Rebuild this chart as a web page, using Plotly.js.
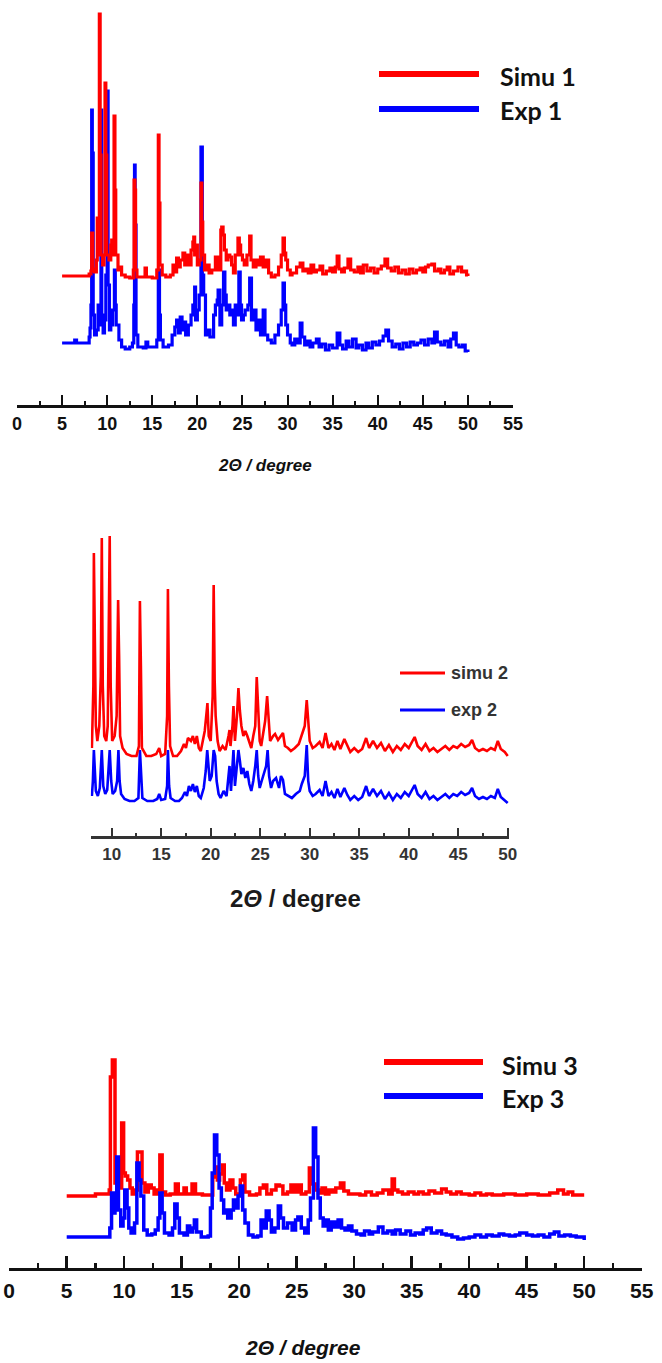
<!DOCTYPE html>
<html>
<head>
<meta charset="utf-8">
<script src="https://cdn.plot.ly/plotly-3.0.1.min.js"></script>
<style>html,body{margin:0;padding:0;background:#fff;}#chart{width:662px;height:1363px;}</style>
</head>
<body>
<div id="chart"></div>
<script>
// ---------- Panel 1 : Simu 1 / Exp 1  ([2theta, intensity a.u.]) ----------
const simu1 = [[5,129],[7.8,129],[8.0,131],[8.2,134],[8.28,172],[8.4,136],[8.6,133],[8.8,145],[8.9,187],[9.0,150],[9.13,391],[9.22,250],[9.32,150],[9.5,140],[9.65,150],[9.76,322],[9.85,250],[9.95,150],[10.2,145],[10.4,160],[10.5,165],[10.6,150],[10.76,289],[10.86,215],[10.95,150],[11.2,135],[11.5,138],[11.6,130],[12.0,128],[12.5,127],[12.9,135],[12.98,225],[13.08,215],[13.15,135],[13.3,128],[14.0,128],[14.2,137],[14.35,128],[15.0,127],[15.5,135],[15.67,270],[15.75,202],[15.85,140],[16.1,130],[16.5,128],[17.0,130],[17.3,140],[17.5,133],[17.7,147],[17.9,138],[18.1,145],[18.4,152],[18.6,140],[18.8,150],[19.0,140],[19.3,155],[19.5,163],[19.6,168],[19.7,150],[19.85,160],[20.0,140],[20.2,145],[20.4,222],[20.5,183],[20.6,150],[20.8,135],[21.0,140],[21.3,132],[21.6,135],[22.0,148],[22.3,135],[22.6,175],[22.7,178],[22.85,170],[23.0,155],[23.2,145],[23.4,150],[23.6,148],[23.8,140],[24.0,132],[24.2,150],[24.5,167],[24.65,160],[24.8,150],[25.0,145],[25.2,140],[25.5,150],[25.8,169],[25.95,145],[26.2,138],[26.5,145],[26.8,140],[27.0,148],[27.3,138],[27.6,145],[27.9,132],[28.2,128],[28.6,130],[29.0,138],[29.3,150],[29.5,167],[29.65,152],[29.8,145],[30.0,135],[30.3,130],[30.5,132],[31.0,138],[31.4,142],[31.7,134],[32.0,136],[32.3,132],[32.6,140],[32.9,133],[33.2,135],[33.6,139],[33.9,131],[34.3,134],[34.7,137],[35.0,133],[35.3,138],[35.5,149],[35.7,136],[36.0,133],[36.3,137],[36.7,146],[37.0,135],[37.4,133],[37.8,138],[38.1,132],[38.4,140],[38.8,134],[39.2,137],[39.6,132],[40.0,136],[40.4,139],[40.8,146],[41.1,137],[41.5,134],[41.9,138],[42.3,132],[42.7,135],[43.1,131],[43.5,136],[43.9,132],[44.3,135],[44.7,137],[45.0,133],[45.3,138],[45.6,140],[46.0,141],[46.3,134],[46.7,136],[47.0,132],[47.4,135],[47.7,138],[48.0,131],[48.4,134],[48.9,138],[49.3,133],[49.6,134],[49.85,130],[50,129]];
const exp1 = [[5,62],[6.2,62],[6.4,65],[6.6,62],[7.9,62],[8.0,68],[8.1,77],[8.2,100],[8.28,295],[8.35,252],[8.45,90],[8.6,70],[8.8,75],[9.0,100],[9.1,85],[9.2,80],[9.31,295],[9.4,90],[9.55,72],[9.7,85],[9.85,130],[10.0,314],[10.1,120],[10.25,75],[10.4,80],[10.6,95],[10.8,135],[10.9,100],[11.0,80],[11.3,65],[11.6,58],[12.0,56],[12.5,58],[12.8,62],[12.95,100],[13.03,240],[13.1,180],[13.2,70],[13.4,58],[14.0,57],[14.3,63],[14.5,58],[15.0,58],[15.5,65],[15.67,135],[15.8,90],[15.9,65],[16.2,58],[16.8,60],[17.2,70],[17.5,78],[17.7,85],[17.9,72],[18.1,88],[18.3,75],[18.5,83],[18.7,70],[19.0,80],[19.3,90],[19.5,100],[19.7,118],[19.8,85],[20.0,95],[20.2,110],[20.4,258],[20.55,130],[20.7,110],[20.9,70],[21.1,75],[21.4,68],[21.8,90],[22.0,100],[22.2,105],[22.3,115],[22.5,80],[22.7,100],[22.9,133],[23.05,110],[23.2,95],[23.4,100],[23.6,90],[23.8,95],[24.0,80],[24.2,100],[24.4,90],[24.6,133],[24.75,100],[24.9,85],[25.1,90],[25.3,95],[25.6,100],[25.8,127],[26.0,85],[26.2,95],[26.5,75],[26.8,85],[27.0,70],[27.3,95],[27.5,70],[27.8,65],[28.2,62],[28.6,70],[29.0,80],[29.3,95],[29.5,122],[29.65,100],[29.8,80],[30.0,70],[30.3,62],[30.5,60],[30.8,66],[31.1,62],[31.4,82],[31.6,68],[31.9,60],[32.2,64],[32.5,58],[32.8,62],[33.2,66],[33.5,58],[33.8,61],[34.2,55],[34.6,60],[35.0,57],[35.5,72],[35.8,60],[36.1,56],[36.5,64],[36.8,58],[37.2,66],[37.6,57],[37.9,60],[38.3,55],[38.7,62],[39.0,57],[39.4,63],[39.8,60],[40.2,64],[40.6,69],[40.9,75],[41.2,64],[41.6,58],[42.0,61],[42.4,56],[42.8,62],[43.2,58],[43.6,63],[44.0,60],[44.4,62],[44.8,65],[45.2,60],[45.6,66],[46.0,62],[46.3,73],[46.6,63],[47.0,60],[47.4,64],[47.8,58],[48.1,66],[48.4,72],[48.7,60],[49.0,58],[49.4,60],[49.7,54],[50.0,53]];

// ---------- Panel 2 : simu 2 / exp 2 ----------
const simu2 = [[8.0,88],[8.15,150],[8.2,283],[8.28,200],[8.4,110],[8.55,95],[8.75,110],[8.9,160],[9.0,298],[9.1,150],[9.25,100],[9.45,95],[9.6,110],[9.8,300],[9.9,150],[10.05,95],[10.3,100],[10.5,120],[10.65,236],[10.75,180],[10.85,100],[11.1,88],[11.5,82],[12.0,80],[12.5,80],[12.75,90],[12.85,235],[12.95,170],[13.05,88],[13.5,80],[14.0,80],[14.5,82],[14.8,88],[15.0,80],[15.4,82],[15.6,120],[15.68,247],[15.78,150],[15.9,90],[16.2,80],[16.6,80],[17.0,85],[17.3,92],[17.5,88],[17.7,98],[18.0,95],[18.2,100],[18.4,92],[18.6,100],[18.8,88],[19.0,85],[19.2,95],[19.4,105],[19.6,125],[19.67,133],[19.8,100],[20.0,95],[20.2,140],[20.3,251],[20.4,156],[20.5,120],[20.7,95],[20.9,85],[21.2,90],[21.5,86],[21.8,100],[21.9,106],[22.0,90],[22.2,110],[22.3,130],[22.45,95],[22.65,120],[22.8,148],[22.95,125],[23.1,110],[23.3,100],[23.5,105],[23.7,100],[23.9,95],[24.1,88],[24.3,100],[24.5,110],[24.65,159],[24.8,120],[24.95,95],[25.1,90],[25.3,105],[25.5,115],[25.7,140],[25.85,110],[26.0,95],[26.3,100],[26.5,102],[26.8,96],[27.1,100],[27.3,103],[27.5,90],[27.8,88],[28.1,85],[28.5,88],[28.9,92],[29.2,100],[29.5,110],[29.7,136],[29.85,110],[30.0,95],[30.3,88],[30.6,90],[31.0,94],[31.3,88],[31.6,103],[31.9,88],[32.2,92],[32.5,86],[32.8,95],[33.1,87],[33.5,97],[33.8,90],[34.1,84],[34.5,88],[34.9,84],[35.3,87],[35.7,98],[36.0,88],[36.4,95],[36.8,88],[37.2,93],[37.6,85],[38.0,91],[38.4,84],[38.8,90],[39.2,86],[39.6,92],[40.0,88],[40.3,94],[40.6,99],[40.9,90],[41.3,86],[41.7,92],[42.1,85],[42.5,88],[42.9,84],[43.3,87],[43.7,90],[44.1,86],[44.5,90],[44.9,88],[45.3,92],[45.7,89],[46.1,91],[46.4,96],[46.7,88],[47.1,85],[47.5,87],[47.9,85],[48.3,88],[48.7,86],[49.0,95],[49.3,87],[49.7,84],[50.0,80]];
const exp2 = [[8.0,40],[8.1,55],[8.2,86],[8.3,60],[8.4,45],[8.6,40],[8.8,48],[9.0,86],[9.15,50],[9.35,42],[9.55,46],[9.8,86],[9.95,55],[10.1,42],[10.35,45],[10.55,55],[10.68,86],[10.8,55],[10.95,42],[11.3,37],[11.8,35],[12.3,35],[12.7,38],[12.85,86],[12.95,60],[13.1,38],[13.6,35],[14.2,35],[14.6,37],[14.8,42],[15.0,36],[15.4,37],[15.6,50],[15.68,86],[15.8,50],[15.95,38],[16.4,35],[16.8,35],[17.1,38],[17.4,44],[17.6,40],[17.8,50],[18.0,45],[18.2,52],[18.4,44],[18.6,50],[18.8,40],[19.0,38],[19.3,48],[19.5,65],[19.65,86],[19.75,70],[19.9,55],[20.1,60],[20.3,86],[20.45,80],[20.6,55],[20.8,42],[21.0,38],[21.3,45],[21.6,40],[21.8,60],[21.9,70],[22.05,45],[22.2,70],[22.3,86],[22.45,50],[22.65,70],[22.8,86],[22.95,75],[23.1,62],[23.3,68],[23.5,58],[23.7,65],[23.9,52],[24.1,45],[24.3,55],[24.5,70],[24.65,86],[24.8,60],[24.95,48],[25.15,55],[25.4,65],[25.6,70],[25.75,86],[25.9,60],[26.1,48],[26.3,55],[26.6,58],[26.9,48],[27.1,60],[27.3,56],[27.5,42],[27.8,40],[28.2,38],[28.6,42],[29.0,45],[29.2,52],[29.5,60],[29.7,91],[29.85,55],[30.0,45],[30.3,40],[30.6,42],[31.0,46],[31.3,40],[31.6,55],[31.9,40],[32.2,44],[32.5,38],[32.8,47],[33.1,39],[33.5,48],[33.8,41],[34.1,36],[34.5,40],[34.9,36],[35.3,39],[35.7,50],[36.0,40],[36.4,47],[36.8,40],[37.2,45],[37.6,37],[38.0,43],[38.4,36],[38.8,42],[39.2,38],[39.6,44],[40.0,40],[40.3,46],[40.6,51],[40.9,42],[41.3,38],[41.7,44],[42.1,37],[42.5,40],[42.9,36],[43.3,39],[43.7,42],[44.1,38],[44.5,42],[44.9,40],[45.3,44],[45.7,41],[46.1,43],[46.4,48],[46.7,40],[47.1,37],[47.5,39],[47.9,37],[48.3,40],[48.7,38],[49.0,47],[49.3,39],[49.7,36],[50.0,33]];

// ---------- Panel 3 : Simu 3 / Exp 3 ----------
const simu3 = [[5.0,72],[7.5,74],[8.6,74],[8.7,78],[8.8,191],[8.97,208],[9.2,85],[9.4,88],[9.6,80],[9.78,145],[9.95,95],[10.1,92],[10.3,88],[10.5,80],[10.7,74],[11.0,78],[11.15,116],[11.55,85],[11.8,76],[12.1,83],[12.35,80],[12.6,74],[12.9,78],[13.1,113],[13.3,76],[13.6,73],[14.0,74],[14.45,84],[14.7,74],[15.2,80],[15.4,74],[15.9,84],[16.2,74],[16.8,73],[17.3,73],[17.7,91],[17.9,101],[18.1,88],[18.3,94],[18.55,103],[18.7,85],[18.9,78],[19.2,88],[19.45,80],[19.7,74],[20.1,88],[20.3,93],[20.5,76],[20.9,73],[21.5,74],[21.8,80],[22.1,83],[22.4,74],[22.8,78],[23.2,83],[23.5,82],[23.8,74],[24.2,76],[24.5,83],[24.8,76],[25.1,83],[25.4,74],[25.8,76],[26.1,100],[26.3,84],[26.6,78],[26.9,75],[27.2,80],[27.5,74],[27.8,78],[28.1,76],[28.4,80],[28.8,85],[29.1,77],[29.5,74],[30.0,74],[30.5,73],[31.0,76],[31.5,73],[32.0,75],[32.5,78],[33.0,74],[33.3,89],[33.5,78],[33.8,76],[34.2,74],[34.7,76],[35.2,74],[35.6,76],[36.0,74],[36.5,77],[37.0,75],[37.6,79],[38.0,76],[38.4,74],[38.9,76],[39.3,74],[40.0,73],[40.5,75],[41.0,73],[41.5,74],[42.0,73],[43.0,74],[44.0,73],[45.0,74],[46.0,73],[47.0,75],[47.7,78],[48.2,74],[48.6,76],[49.0,73],[50.0,73]];
const exp3 = [[5.0,31],[8.6,31],[8.75,40],[8.9,75],[9.05,55],[9.2,70],[9.35,111],[9.5,58],[9.7,42],[9.9,50],[10.05,78],[10.25,60],[10.4,40],[10.6,35],[10.9,45],[11.1,105],[11.3,88],[11.45,72],[11.7,38],[12.0,33],[12.4,34],[12.7,38],[12.95,50],[13.1,75],[13.3,55],[13.5,35],[13.9,33],[14.2,40],[14.4,64],[14.6,50],[14.8,35],[15.2,33],[15.5,42],[15.7,36],[15.95,40],[16.1,48],[16.3,36],[16.7,31],[17.3,32],[17.5,60],[17.65,95],[17.85,133],[18.05,113],[18.25,80],[18.45,68],[18.65,55],[18.85,58],[19.0,50],[19.3,58],[19.5,68],[19.7,60],[19.9,72],[20.1,82],[20.3,58],[20.5,45],[20.8,33],[21.2,31],[21.6,32],[21.9,48],[22.1,40],[22.35,57],[22.6,48],[22.8,36],[23.1,40],[23.4,62],[23.6,50],[23.85,40],[24.2,45],[24.6,38],[24.9,48],[25.1,51],[25.4,40],[25.7,35],[26.0,48],[26.2,70],[26.45,140],[26.65,111],[26.85,70],[27.05,50],[27.3,42],[27.5,48],[27.75,38],[28.0,46],[28.3,41],[28.6,48],[28.9,40],[29.2,38],[29.5,42],[29.8,37],[30.2,34],[30.6,33],[30.9,37],[31.3,34],[31.6,36],[32.1,41],[32.5,35],[32.9,37],[33.3,34],[33.6,38],[34.0,34],[34.5,37],[34.9,33],[35.3,35],[35.7,34],[36.0,38],[36.3,40],[36.7,35],[37.2,37],[37.6,34],[38.0,33],[38.5,31],[39.0,29],[39.5,30],[40.0,31],[40.5,33],[41.0,31],[41.5,33],[42.0,32],[42.6,34],[43.0,33],[43.5,32],[44.0,33],[44.4,35],[45.0,33],[45.5,32],[46.0,33],[46.5,31],[47.0,34],[47.4,36],[47.8,32],[48.3,33],[48.8,32],[49.3,31],[49.7,31],[50.0,28]];

const legend1 = ['Simu 1', 'Exp 1'];
const legend2 = ['simu 2', 'exp 2'];
const legend3 = ['Simu 3', 'Exp 3'];
const axisTitle = '2Θ / degree';

const RED = '#ff0000', BLUE = '#0000ff';
const W = 662, H = 1363;
const px = v => v / W;          // paper x from pixel
const py = v => 1 - v / H;      // paper y from pixel

function tr(pairs, color, width, shape, xa, ya, name) {
  return {x: pairs.map(p => p[0]), y: pairs.map(p => p[1]), type: 'scatter', mode: 'lines',
    name: name, line: {color: color, width: width, shape: shape}, xaxis: xa, yaxis: ya,
    hoverinfo: 'skip', showlegend: false};
}

const data = [
  tr(exp1, BLUE, 3.2, 'hv', 'x', 'y', legend1[1]),
  tr(simu1, RED, 3.2, 'hv', 'x', 'y', legend1[0]),
  tr(exp2, BLUE, 2.6, 'linear', 'x2', 'y2', legend2[1]),
  tr(simu2, RED, 2.6, 'linear', 'x2', 'y2', legend2[0]),
  tr(simu3, RED, 3.5, 'hv', 'x3', 'y3', legend3[0]),
  tr(exp3, BLUE, 3.5, 'hv', 'x3', 'y3', legend3[1])
];

function xax(dom, range, anchor, lw, tl, mtl, tw, fsize, fcolor, standoff) {
  return {domain: dom, range: range, anchor: anchor, showline: true, linecolor: fcolor, linewidth: lw,
    ticks: 'inside', ticklen: tl, tickwidth: tw, tickcolor: fcolor, tick0: 0, dtick: 5,
    minor: {ticks: 'inside', tick0: 0, dtick: 2.5, ticklen: mtl, tickwidth: tw, tickcolor: fcolor, showgrid: false},
    showgrid: false, zeroline: false, fixedrange: true, ticklabelstandoff: standoff,
    tickfont: {family: 'Liberation Sans, Arial, sans-serif', size: fsize, color: fcolor, weight: 'bold'}};
}
function yax(dom, range, anchor) {
  return {domain: dom, range: range, anchor: anchor, visible: false, showgrid: false, zeroline: false, fixedrange: true};
}

const layout = {
  width: W, height: H, margin: {l: 0, r: 0, t: 0, b: 0}, paper_bgcolor: '#ffffff', plot_bgcolor: 'rgba(0,0,0,0)',
  showlegend: false,
  xaxis: xax([px(17), px(513)], [0, 55], 'y', 2.5, 10, 4, 2, 18, '#111111', 1),
  yaxis: yax([py(405), py(5)], [0, 400], 'x'),
  xaxis2: xax([px(90.7), px(509)], [7.88, 50.13], 'y2', 2.5, 8, 3, 2, 17, '#333333', 1),
  yaxis2: yax([py(836), py(520)], [0, 316], 'x2'),
  xaxis3: xax([px(9.2), px(641.7)], [0, 55], 'y3', 3, 12, 5, 2.5, 21, '#111111', 2),
  yaxis3: yax([py(1268), py(1040)], [0, 228], 'x3'),
  shapes: [
    {type: 'line', xref: 'paper', yref: 'paper', x0: px(379), x1: px(479), y0: py(74), y1: py(74), line: {color: RED, width: 6}},
    {type: 'line', xref: 'paper', yref: 'paper', x0: px(379), x1: px(479), y0: py(109), y1: py(109), line: {color: BLUE, width: 6}},
    {type: 'line', xref: 'paper', yref: 'paper', x0: px(400), x1: px(445), y0: py(673), y1: py(673), line: {color: RED, width: 3}},
    {type: 'line', xref: 'paper', yref: 'paper', x0: px(400), x1: px(445), y0: py(710), y1: py(710), line: {color: BLUE, width: 3}},
    {type: 'line', xref: 'paper', yref: 'paper', x0: px(384), x1: px(483), y0: py(1062), y1: py(1062), line: {color: RED, width: 6}},
    {type: 'line', xref: 'paper', yref: 'paper', x0: px(384), x1: px(483), y0: py(1096), y1: py(1096), line: {color: BLUE, width: 6}}
  ],
  annotations: [
    {xref: 'paper', yref: 'paper', x: px(498), y: py(76), xanchor: 'left', yanchor: 'middle', showarrow: false, text: legend1[0], font: {family: 'Lato, sans-serif', size: 25, color: '#111', weight: 'bold'}},
    {xref: 'paper', yref: 'paper', x: px(498), y: py(110), xanchor: 'left', yanchor: 'middle', showarrow: false, text: legend1[1], font: {family: 'Lato, sans-serif', size: 25, color: '#111', weight: 'bold'}},
    {xref: 'paper', yref: 'paper', x: px(449), y: py(673), xanchor: 'left', yanchor: 'middle', showarrow: false, text: legend2[0], font: {family: 'Liberation Sans, Arial, sans-serif', size: 18, color: '#333', weight: 'bold'}},
    {xref: 'paper', yref: 'paper', x: px(449), y: py(710), xanchor: 'left', yanchor: 'middle', showarrow: false, text: legend2[1], font: {family: 'Liberation Sans, Arial, sans-serif', size: 18, color: '#333', weight: 'bold'}},
    {xref: 'paper', yref: 'paper', x: px(500), y: py(1065), xanchor: 'left', yanchor: 'middle', showarrow: false, text: legend3[0], font: {family: 'Lato, sans-serif', size: 25, color: '#111', weight: 'bold'}},
    {xref: 'paper', yref: 'paper', x: px(500), y: py(1098), xanchor: 'left', yanchor: 'middle', showarrow: false, text: legend3[1], font: {family: 'Lato, sans-serif', size: 25, color: '#111', weight: 'bold'}},
    {xref: 'paper', yref: 'paper', x: px(265), y: py(466), xanchor: 'center', yanchor: 'middle', showarrow: false, text: '<b><i>' + axisTitle + '</i></b>', font: {family: 'Liberation Sans, Arial, sans-serif', size: 17, color: '#111'}},
    {xref: 'paper', yref: 'paper', x: px(295), y: py(899), xanchor: 'center', yanchor: 'middle', showarrow: false, text: '<b>2<i>Θ</i> / degree</b>', font: {family: 'Liberation Sans, Arial, sans-serif', size: 24, color: '#1a1a1a'}},
    {xref: 'paper', yref: 'paper', x: px(303), y: py(1347), xanchor: 'center', yanchor: 'middle', showarrow: false, text: '<b><i>' + axisTitle + '</i></b>', font: {family: 'Liberation Sans, Arial, sans-serif', size: 21, color: '#111'}}
  ]
};

Plotly.newPlot('chart', data, layout, {staticPlot: true, displayModeBar: false});
</script>
</body>
</html>
